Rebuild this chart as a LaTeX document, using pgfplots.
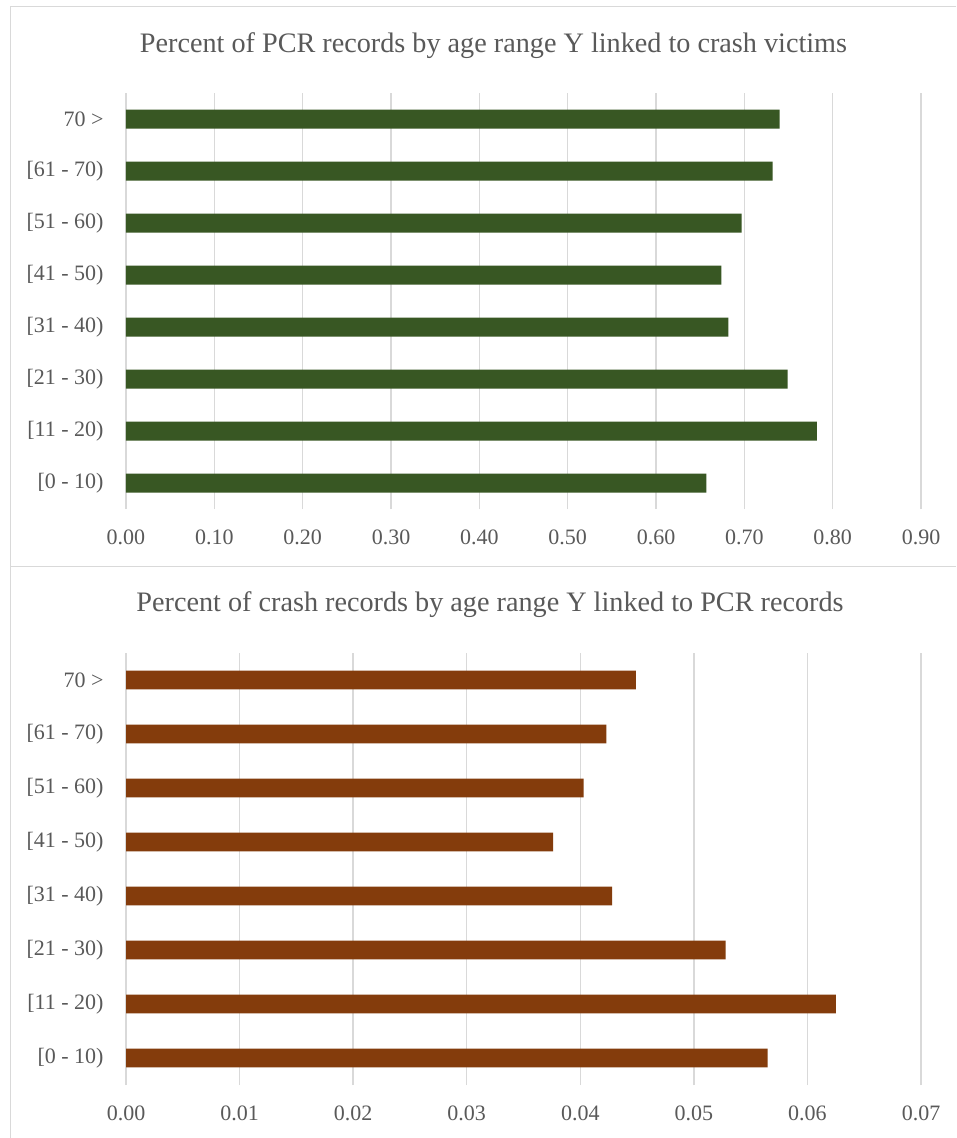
\documentclass[border=0pt]{standalone}
\usepackage{fontspec}
\setmainfont{Liberation Serif}
\usepackage{pgfplots}
\pgfplotsset{compat=1.18}

\definecolor{txt}{HTML}{595959}
\definecolor{gridgray}{HTML}{D9D9D9}
\definecolor{pcrgreen}{HTML}{385723}
\definecolor{crashbrown}{HTML}{843C0C}

% values per age range, bottom category first
\pgfplotstableread{
idx val
0 0.657
1 0.782
2 0.749
3 0.682
4 0.674
5 0.697
6 0.732
7 0.740
}\pcrlinked
\pgfplotstableread{
idx val
0 0.0565
1 0.0625
2 0.0528
3 0.0428
4 0.0376
5 0.0403
6 0.0423
7 0.0449
}\crashlinked

\pgfplotsset{
  agebars/.style={
    xbar,
    scale only axis,
    width=795pt,
    axis line style={draw=none},
    tick style={draw=none},
    ymin=-0.5, ymax=7.5,
    ytick={0,1,2,3,4,5,6,7},
    yticklabels={{[0 - 10)},{[11 - 20)},{[21 - 30)},{[31 - 40)},{[41 - 50)},{[51 - 60)},{[61 - 70)},{70 >}},
    xmajorgrids,
    major grid style={draw=gridgray, line width=1.5pt},
    xmin=0,
    scaled x ticks=false,
    yticklabel style={font=\fontsize{22}{22}\selectfont, text=txt, inner sep=0pt, anchor=east, xshift=-18pt},
    xticklabel style={font=\fontsize{22}{22}\selectfont, text=txt, inner sep=0pt, anchor=center, yshift=-28pt},
    /pgf/number format/.cd, fixed, fixed zerofill, precision=2, assume math mode=true,
  }
}

\begin{document}
\begin{tikzpicture}[x=1pt,y=1pt]
  \path[use as bounding box, fill=white] (0,0) rectangle (956,-1138);
  % panel frames
  \draw[gridgray, line width=1.5pt] (956,-6.7) -- (10.3,-6.7) -- (10.3,-1138);
  \draw[gridgray, line width=1.5pt] (10.3,-566.7) -- (956,-566.7);

  % titles
  \node[anchor=base, text=txt, font=\fontsize{28.2}{28.2}\selectfont, inner sep=0pt]
    at (493.5,-52.3) {Percent of PCR records by age range Y linked to crash victims};
  \node[anchor=base, text=txt, font=\fontsize{28.2}{28.2}\selectfont, inner sep=0pt]
    at (490,-611.7) {Percent of crash records by age range Y linked to PCR records};

  % upper panel
  \begin{axis}[agebars,
      at={(126pt,-509pt)}, anchor=south west,
      height=416pt,
      xmax=0.9,
      xtick={0,0.1,0.2,0.3,0.4,0.5,0.6,0.7,0.8,0.9},
      bar width=19pt]
    \addplot[fill=pcrgreen, draw=none] table[x=val, y=idx] {\pcrlinked};
  \end{axis}

  % lower panel
  \begin{axis}[agebars,
      at={(126pt,-1085pt)}, anchor=south west,
      height=432pt,
      xmax=0.07,
      xtick={0,0.01,0.02,0.03,0.04,0.05,0.06,0.07},
      bar width=18.7pt]
    \addplot[fill=crashbrown, draw=none] table[x=val, y=idx] {\crashlinked};
  \end{axis}
\end{tikzpicture}
\end{document}
